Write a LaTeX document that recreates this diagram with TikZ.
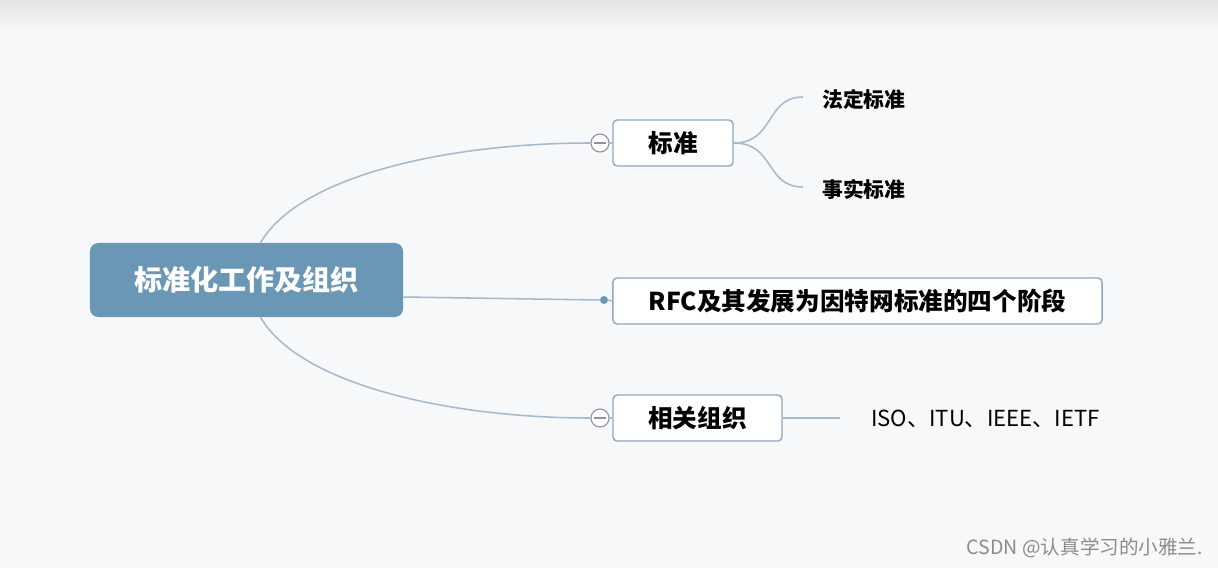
\documentclass[tikz,border=0pt]{standalone}
\usepackage{fontspec}
\setmainfont{Noto Sans CJK SC}
\usetikzlibrary{positioning}
\definecolor{rootblue}{HTML}{6B97B6}
\definecolor{boxline}{HTML}{8FA7BE}
\definecolor{branch}{HTML}{A7BACB}
\definecolor{bgcol}{HTML}{F7F8FA}
\definecolor{foldgray}{HTML}{8E959C}
\tikzset{
  rootbox/.style={rectangle, rounded corners=6pt, fill=rootblue, text=white,
    font=\bfseries\fontsize{20}{20}\selectfont, inner sep=0pt},
  topicbox/.style={rectangle, rounded corners=3pt, draw=boxline, line width=1pt,
    fill=white, font=\bfseries\fontsize{17.5}{17.5}\selectfont, inner sep=0pt},
  leaf/.style={font=\bfseries\fontsize{14.8}{14.8}\selectfont, inner sep=0pt},
  foldmark/.style={circle, draw=foldgray, line width=0.8pt, fill=white,
    minimum size=0.45cm, inner sep=0pt,
    path picture={\draw[foldgray, line width=0.8pt]
      ([xshift=-0.15cm]path picture bounding box.center) --
      ([xshift=0.15cm]path picture bounding box.center);}},
  link/.style={draw=branch, line width=1.1pt}
}
\begin{document}
\begin{tikzpicture}[x=0.025cm, y=-0.025cm]
\useasboundingbox (0,0) rectangle (1218,568);
\fill[bgcol] (0,0) rectangle (1218,568);
\shade[top color=gray!22, bottom color=bgcol] (0,0) rectangle (1218,30);

% main topic
\node[rootbox, minimum width=7.825cm, minimum height=1.85cm] (root) at (246.5,280) {标准化工作及组织};

% subtopics
\node[topicbox, minimum width=3cm, minimum height=1.15cm] (std) at (673,143) {标准};
\node[topicbox, minimum width=12.225cm, minimum height=1.15cm] (rfc) at (857.5,301) {RFC及其发展为因特网标准的四个阶段};
\node[topicbox, minimum width=4.225cm, minimum height=1.15cm] (org) at (697.5,418) {相关组织};

\node[foldmark] (stdfold) at (600,143) {};
\node[foldmark] (orgfold) at (600,418) {};
\node[circle, fill=rootblue, minimum size=0.2cm, inner sep=0pt] (rfcdot) at (604,300) {};

% leaves
\node[leaf, anchor=west] (legal) at (822,99) {法定标准};
\node[leaf, anchor=west] (defacto) at (822,189) {事实标准};
\node[font=\fontsize{15.7}{15.7}\selectfont, anchor=west, inner sep=0pt] (orgs) at (871,419) {ISO、ITU、IEEE、IETF};
\coordinate (legalin) at (803,97);
\coordinate (defactoin) at (803,187);
\coordinate (orgsin) at (840,418);

% connectors
\draw[link] ([xshift=0.35cm]root.north) .. controls (300,175) and (450,143) .. (stdfold.west);
\draw[link] ([xshift=0.35cm]root.south) .. controls (300,385) and (450,418) .. (orgfold.west);
\draw[link] (root.east |- 0,297) -- (rfcdot.west);
\draw[link] (rfcdot.east) -- (rfc.west);
\draw[link] (stdfold.east) -- (std.west);
\draw[link] (orgfold.east) -- (org.west);
\draw[link] (std.east) .. controls (775,143) and (765,97) .. (legalin);
\draw[link] (std.east) .. controls (775,143) and (765,187) .. (defactoin);
\draw[link] (org.east) -- (orgsin);

% watermark
\node[anchor=east, text=gray!90, font=\fontsize{13.9}{13.9}\selectfont, inner sep=0pt] (mark) at (1203,548) {CSDN @认真学习的小雅兰.};
\end{tikzpicture}
\end{document}
